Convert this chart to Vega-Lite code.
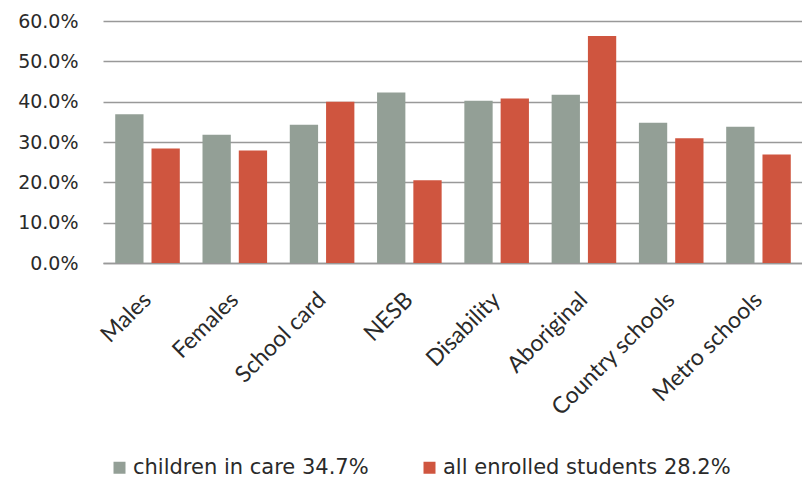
{
  "$schema": "https://vega.github.io/schema/vega-lite/v6.json",
  "width": 700,
  "height": 242,
  "autosize": {"type": "none"},
  "padding": {"left": 103, "top": 21, "right": 0, "bottom": 216},
  "background": "white",
  "config": {"view": {"stroke": null}},
  "data": {
    "values": [
      {"category": "Males", "series": "children in care 34.7%", "value": 0.369},
      {"category": "Males", "series": "all enrolled students 28.2%", "value": 0.284},
      {"category": "Females", "series": "children in care 34.7%", "value": 0.318},
      {"category": "Females", "series": "all enrolled students 28.2%", "value": 0.279},
      {"category": "School card", "series": "children in care 34.7%", "value": 0.343},
      {"category": "School card", "series": "all enrolled students 28.2%", "value": 0.400},
      {"category": "NESB", "series": "children in care 34.7%", "value": 0.423},
      {"category": "NESB", "series": "all enrolled students 28.2%", "value": 0.205},
      {"category": "Disability", "series": "children in care 34.7%", "value": 0.402},
      {"category": "Disability", "series": "all enrolled students 28.2%", "value": 0.408},
      {"category": "Aboriginal", "series": "children in care 34.7%", "value": 0.417},
      {"category": "Aboriginal", "series": "all enrolled students 28.2%", "value": 0.563},
      {"category": "Country schools", "series": "children in care 34.7%", "value": 0.348},
      {"category": "Country schools", "series": "all enrolled students 28.2%", "value": 0.309},
      {"category": "Metro schools", "series": "children in care 34.7%", "value": 0.338},
      {"category": "Metro schools", "series": "all enrolled students 28.2%", "value": 0.269}
    ]
  },
  "mark": {"type": "bar"},
  "encoding": {
    "x": {
      "field": "category",
      "type": "nominal",
      "sort": null,
      "scale": {"paddingInner": 0.26, "paddingOuter": 0.14},
      "axis": {
        "title": null,
        "labelAngle": -45,
        "labelAlign": "right",
        "labelBaseline": "middle",
        "labelFont": "Lato",
        "labelFontSize": 23,
        "labelColor": "#2a2a2a",
        "ticks": false,
        "domain": true,
        "domainColor": "#999999",
        "domainWidth": 1.5,
        "labelPadding": 33
      }
    },
    "xOffset": {
      "field": "series",
      "type": "nominal",
      "sort": ["children in care 34.7%", "all enrolled students 28.2%"],
      "scale": {"paddingInner": 0.22}
    },
    "y": {
      "field": "value",
      "type": "quantitative",
      "scale": {"domain": [0, 0.6]},
      "axis": {
        "title": null,
        "format": ".1%",
        "values": [0, 0.1, 0.2, 0.3, 0.4, 0.5, 0.6],
        "domain": false,
        "ticks": false,
        "gridColor": "#999999",
        "gridWidth": 1.5,
        "labelFont": "DejaVu Sans",
        "labelFontSize": 19,
        "labelColor": "#2a2a2a",
        "labelPadding": 25
      }
    },
    "color": {
      "field": "series",
      "type": "nominal",
      "sort": ["children in care 34.7%", "all enrolled students 28.2%"],
      "scale": {"range": ["#939f96", "#cf553f"]},
      "legend": {
        "title": null,
        "orient": "none",
        "direction": "horizontal",
        "legendX": 6,
        "legendY": 436,
        "symbolType": "square",
        "symbolSize": 144,
        "symbolStrokeWidth": 0,
        "labelFont": "DejaVu Sans",
        "labelFontSize": 21,
        "labelColor": "#2a2a2a",
        "labelOffset": 3,
        "labelLimit": 500,
        "columnPadding": 50
      }
    }
  }
}
